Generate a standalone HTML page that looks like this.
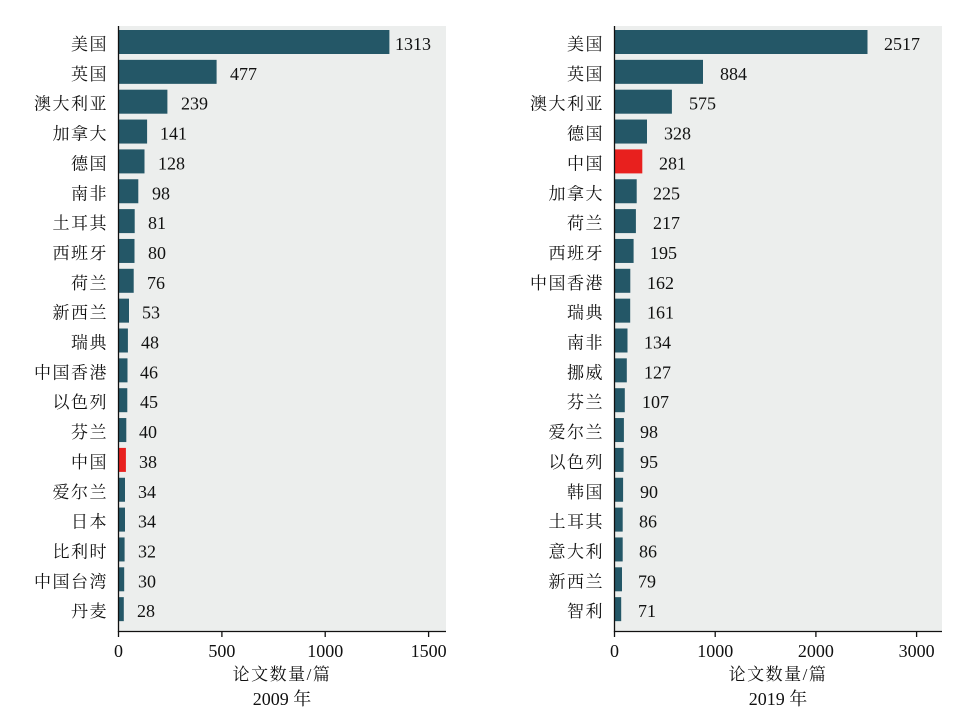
<!DOCTYPE html>
<html><head><meta charset="utf-8"><style>
body{margin:0;background:#fff}
svg{display:block}
text{font-family:"Liberation Serif","Noto Serif CJK SC",serif;font-size:18px;fill:#111}
.c{font-family:"Liberation Serif","Noto Serif CJK SC",serif;font-size:17px;letter-spacing:1.5px}
</style></head><body>
<svg width="961" height="713" viewBox="0 0 961 713">
<rect x="118" y="26" width="328" height="605" fill="#eceeed"/>
<rect x="614" y="26" width="328" height="605" fill="#eceeed"/>
<g fill="#245767">
<g transform="translate(0,42)"><rect x="118" y="-12" width="271.4" height="24"/></g>
<g transform="translate(0,71.85)"><rect x="118" y="-12" width="98.6" height="24"/></g>
<g transform="translate(0,101.7)"><rect x="118" y="-12" width="49.4" height="24"/></g>
<g transform="translate(0,131.55)"><rect x="118" y="-12" width="29.1" height="24"/></g>
<g transform="translate(0,161.4)"><rect x="118" y="-12" width="26.5" height="24"/></g>
<g transform="translate(0,191.25)"><rect x="118" y="-12" width="20.3" height="24"/></g>
<g transform="translate(0,221.1)"><rect x="118" y="-12" width="16.7" height="24"/></g>
<g transform="translate(0,250.95)"><rect x="118" y="-12" width="16.5" height="24"/></g>
<g transform="translate(0,280.8)"><rect x="118" y="-12" width="15.7" height="24"/></g>
<g transform="translate(0,310.65)"><rect x="118" y="-12" width="11" height="24"/></g>
<g transform="translate(0,340.5)"><rect x="118" y="-12" width="9.9" height="24"/></g>
<g transform="translate(0,370.35)"><rect x="118" y="-12" width="9.5" height="24"/></g>
<g transform="translate(0,400.2)"><rect x="118" y="-12" width="9.3" height="24"/></g>
<g transform="translate(0,430.05)"><rect x="118" y="-12" width="8.3" height="24"/></g>
<g transform="translate(0,459.9)"><rect x="118" y="-12" width="7.9" height="24" fill="#e8201e"/></g>
<g transform="translate(0,489.75)"><rect x="118" y="-12" width="7" height="24"/></g>
<g transform="translate(0,519.6)"><rect x="118" y="-12" width="7" height="24"/></g>
<g transform="translate(0,549.45)"><rect x="118" y="-12" width="6.6" height="24"/></g>
<g transform="translate(0,579.3)"><rect x="118" y="-12" width="6.2" height="24"/></g>
<g transform="translate(0,609.15)"><rect x="118" y="-12" width="5.8" height="24"/></g>

<g transform="translate(0,42)"><rect x="614" y="-12" width="253.5" height="24"/></g>
<g transform="translate(0,71.85)"><rect x="614" y="-12" width="89" height="24"/></g>
<g transform="translate(0,101.7)"><rect x="614" y="-12" width="57.9" height="24"/></g>
<g transform="translate(0,131.55)"><rect x="614" y="-12" width="33" height="24"/></g>
<g transform="translate(0,161.4)"><rect x="614" y="-12" width="28.3" height="24" fill="#e8201e"/></g>
<g transform="translate(0,191.25)"><rect x="614" y="-12" width="22.7" height="24"/></g>
<g transform="translate(0,221.1)"><rect x="614" y="-12" width="21.9" height="24"/></g>
<g transform="translate(0,250.95)"><rect x="614" y="-12" width="19.6" height="24"/></g>
<g transform="translate(0,280.8)"><rect x="614" y="-12" width="16.3" height="24"/></g>
<g transform="translate(0,310.65)"><rect x="614" y="-12" width="16.2" height="24"/></g>
<g transform="translate(0,340.5)"><rect x="614" y="-12" width="13.5" height="24"/></g>
<g transform="translate(0,370.35)"><rect x="614" y="-12" width="12.8" height="24"/></g>
<g transform="translate(0,400.2)"><rect x="614" y="-12" width="10.8" height="24"/></g>
<g transform="translate(0,430.05)"><rect x="614" y="-12" width="9.9" height="24"/></g>
<g transform="translate(0,459.9)"><rect x="614" y="-12" width="9.6" height="24"/></g>
<g transform="translate(0,489.75)"><rect x="614" y="-12" width="9.1" height="24"/></g>
<g transform="translate(0,519.6)"><rect x="614" y="-12" width="8.7" height="24"/></g>
<g transform="translate(0,549.45)"><rect x="614" y="-12" width="8.7" height="24"/></g>
<g transform="translate(0,579.3)"><rect x="614" y="-12" width="8" height="24"/></g>
<g transform="translate(0,609.15)"><rect x="614" y="-12" width="7.2" height="24"/></g>
</g>

<g text-anchor="end">
<text class="c" x="108" y="50">美国</text>
<text class="c" x="108" y="79.85">英国</text>
<text class="c" x="108" y="109.7">澳大利亚</text>
<text class="c" x="108" y="139.55">加拿大</text>
<text class="c" x="108" y="169.4">德国</text>
<text class="c" x="108" y="199.25">南非</text>
<text class="c" x="108" y="229.1">土耳其</text>
<text class="c" x="108" y="258.95">西班牙</text>
<text class="c" x="108" y="288.8">荷兰</text>
<text class="c" x="108" y="318.65">新西兰</text>
<text class="c" x="108" y="348.5">瑞典</text>
<text class="c" x="108" y="378.35">中国香港</text>
<text class="c" x="108" y="408.2">以色列</text>
<text class="c" x="108" y="438.05">芬兰</text>
<text class="c" x="108" y="467.9">中国</text>
<text class="c" x="108" y="497.75">爱尔兰</text>
<text class="c" x="108" y="527.6">日本</text>
<text class="c" x="108" y="557.45">比利时</text>
<text class="c" x="108" y="587.3">中国台湾</text>
<text class="c" x="108" y="617.15">丹麦</text>

<text class="c" x="604" y="50">美国</text>
<text class="c" x="604" y="79.85">英国</text>
<text class="c" x="604" y="109.7">澳大利亚</text>
<text class="c" x="604" y="139.55">德国</text>
<text class="c" x="604" y="169.4">中国</text>
<text class="c" x="604" y="199.25">加拿大</text>
<text class="c" x="604" y="229.1">荷兰</text>
<text class="c" x="604" y="258.95">西班牙</text>
<text class="c" x="604" y="288.8">中国香港</text>
<text class="c" x="604" y="318.65">瑞典</text>
<text class="c" x="604" y="348.5">南非</text>
<text class="c" x="604" y="378.35">挪威</text>
<text class="c" x="604" y="408.2">芬兰</text>
<text class="c" x="604" y="438.05">爱尔兰</text>
<text class="c" x="604" y="467.9">以色列</text>
<text class="c" x="604" y="497.75">韩国</text>
<text class="c" x="604" y="527.6">土耳其</text>
<text class="c" x="604" y="557.45">意大利</text>
<text class="c" x="604" y="587.3">新西兰</text>
<text class="c" x="604" y="617.15">智利</text>
</g>

<g>
<text x="395" y="50">1313</text>
<text x="230" y="79.85">477</text>
<text x="181" y="109.7">239</text>
<text x="160" y="139.55">141</text>
<text x="158" y="169.4">128</text>
<text x="152" y="199.25">98</text>
<text x="148" y="229.1">81</text>
<text x="148" y="258.95">80</text>
<text x="147" y="288.8">76</text>
<text x="142" y="318.65">53</text>
<text x="141" y="348.5">48</text>
<text x="140" y="378.35">46</text>
<text x="140" y="408.2">45</text>
<text x="139" y="438.05">40</text>
<text x="139" y="467.9">38</text>
<text x="138" y="497.75">34</text>
<text x="138" y="527.6">34</text>
<text x="138" y="557.45">32</text>
<text x="138" y="587.3">30</text>
<text x="137" y="617.15">28</text>

<text x="884" y="50">2517</text>
<text x="720" y="79.85">884</text>
<text x="689" y="109.7">575</text>
<text x="664" y="139.55">328</text>
<text x="659" y="169.4">281</text>
<text x="653" y="199.25">225</text>
<text x="653" y="229.1">217</text>
<text x="650" y="258.95">195</text>
<text x="647" y="288.8">162</text>
<text x="647" y="318.65">161</text>
<text x="644" y="348.5">134</text>
<text x="644" y="378.35">127</text>
<text x="642" y="408.2">107</text>
<text x="640" y="438.05">98</text>
<text x="640" y="467.9">95</text>
<text x="640" y="497.75">90</text>
<text x="639" y="527.6">86</text>
<text x="639" y="557.45">86</text>
<text x="638" y="587.3">79</text>
<text x="638" y="617.15">71</text>
</g>

<g stroke="#111" stroke-width="1.3" fill="none">
<path d="M118.5 26V631.5H446"/>
<path d="M118.5 631V637M221.9 631V637M325.2 631V637M428.6 631V637"/>
<path d="M614.5 26V631.5H942"/>
<path d="M614.5 631V637M715.2 631V637M815.9 631V637M916.6 631V637"/>
</g>
<g text-anchor="middle">
<text x="118.5" y="657">0</text>
<text x="221.9" y="657">500</text>
<text x="325.2" y="657">1000</text>
<text x="428.6" y="657">1500</text>
<text x="614.5" y="657">0</text>
<text x="715.2" y="657">1000</text>
<text x="815.9" y="657">2000</text>
<text x="916.6" y="657">3000</text>
<text class="c" x="282" y="680">论文数量/篇</text>
<text x="282" y="705">2009 年</text>
<text class="c" x="778" y="680">论文数量/篇</text>
<text x="778" y="705">2019 年</text>
</g>
</svg>
</body></html>
